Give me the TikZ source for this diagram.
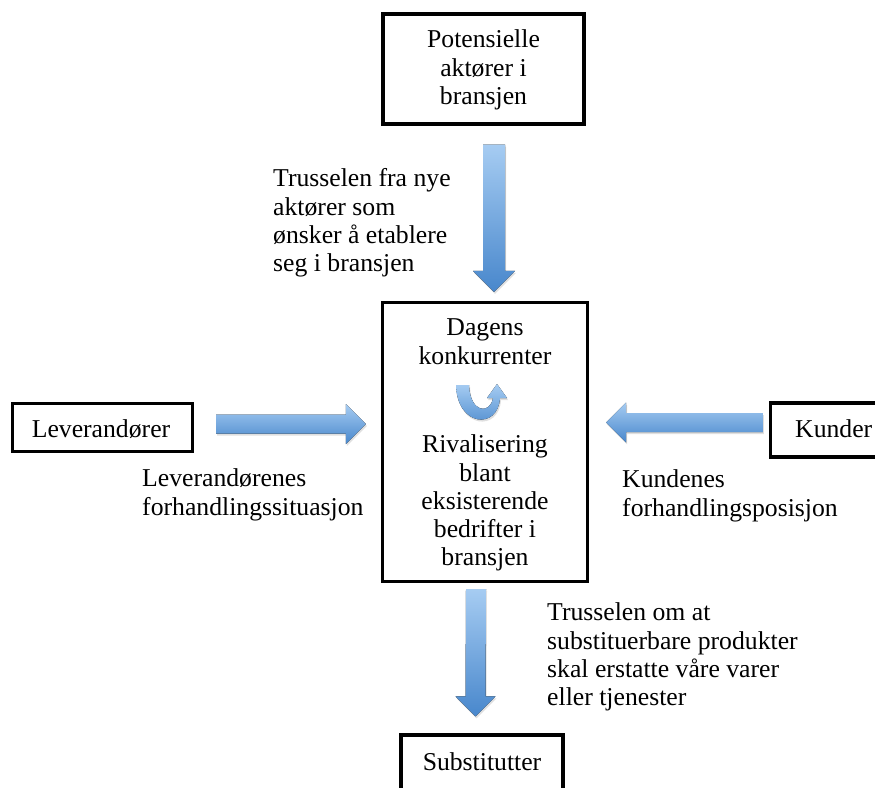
\documentclass[tikz,border=0pt]{standalone}
\usepackage{fontspec}
\setmainfont{Liberation Serif}
\usetikzlibrary{calc,shadows}
\definecolor{arrowlight}{HTML}{A6CCF2}
\definecolor{arrowdark}{HTML}{4887CC}
\tikzset{
  box/.style={draw=black, line width=3.2pt, fill=white, inner sep=0pt,
    drop shadow={opacity=0.25, shadow xshift=1pt, shadow yshift=-1.5pt}},
  txt/.style={inner sep=0pt, font=\fontsize{25.7}{28.3}\selectfont},
  blockarrow/.style={top color=arrowlight, bottom color=arrowdark, draw=none,
    drop shadow={opacity=0.25, shadow xshift=1pt, shadow yshift=-2pt}},
}
\begin{document}
\begin{tikzpicture}[x=1pt,y=-1pt]
\useasboundingbox (0,0) rectangle (875,787);

% boxes
\node[box, minimum width=201, minimum height=110] (top) at (483.5,69) {};
\node[box, minimum width=205, minimum height=279] (mid) at (485,442) {};
\node[box, minimum width=180, minimum height=48] (lev) at (102.5,427.5) {};
\node[box, minimum width=115, minimum height=54] (kun) at (828,430) {};
\node[box, minimum width=162, minimum height=64] (sub) at (482,767) {};

% box texts
\node[txt, align=center, anchor=north] (toptxt) at (483.5,29.7) {Potensielle\\aktører i\\bransjen};
\node[txt, align=center, anchor=north] (dagens) at (485,318.7) {Dagens\\konkurrenter};
\node[txt, align=center, anchor=north] (rival) at (485,434.7) {Rivalisering\\blant\\eksisterende\\bedrifter i\\bransjen};
\node[txt, anchor=north] (levtxt) at (101,419.7) {Leverandører};
\node[txt, anchor=north west] (kuntxt) at (795,419.7) {Kunder};
\node[txt, anchor=north] (subtxt) at (482,752.7) {Substitutter};

% labels
\node[txt, align=left, anchor=north west] (lblnew) at (273,168.7) {Trusselen fra nye\\aktører som\\ønsker å etablere\\seg i bransjen};
\node[txt, align=left, anchor=north west] (lbllev) at (142,468.7) {Leverandørenes\\forhandlingssituasjon};
\node[txt, align=left, anchor=north west] (lblkun) at (622,469.7) {Kundenes\\forhandlingsposisjon};
\node[txt, align=left, anchor=north west] (lblsub) at (547,602.7) {Trusselen om at\\substituerbare produkter\\skal erstatte våre varer\\eller tjenester};

% arrow end points
\coordinate (a1s) at ($(top.south)+(10.5,19)$);
\coordinate (a1e) at ($(mid.north)+(9,-9)$);
\coordinate (a2s) at ($(lev.east)+(22,-3.5)$);
\coordinate (a2e) at ($(a2s -| mid.west)+(-15,0)$);
\coordinate (a3s) at ($(kun.west)+(-6,-7.5)$);
\coordinate (a3e) at ($(a3s -| mid.east)+(17,0)$);
\coordinate (a4s) at ($(mid.south)+(-9,6)$);
\coordinate (a4e) at ($(sub.north)+(-6.5,-17)$);

% down arrow from potential entrants
\fill[blockarrow] ($(a1s)+(-11,0)$) -- ($(a1s)+(11,0)$) -- ($(a1e)+(11,-21)$) -- ($(a1e)+(21,-21)$)
  -- (a1e) -- ($(a1e)+(-21,-21)$) -- ($(a1e)+(-11,-21)$) -- cycle;
% right arrow from suppliers
\fill[blockarrow] ($(a2s)+(0,-9.5)$) -- ($(a2e)+(-20,-9.5)$) -- ($(a2e)+(-20,-20)$) -- (a2e)
  -- ($(a2e)+(-20,20)$) -- ($(a2e)+(-20,9.5)$) -- ($(a2s)+(0,9.5)$) -- cycle;
% left arrow from customers
\fill[blockarrow] ($(a3s)+(0,-9.5)$) -- ($(a3e)+(20,-9.5)$) -- ($(a3e)+(20,-20)$) -- (a3e)
  -- ($(a3e)+(20,20)$) -- ($(a3e)+(20,9.5)$) -- ($(a3s)+(0,9.5)$) -- cycle;
% down arrow to substitutes
\fill[blockarrow] ($(a4s)+(-10,0)$) -- ($(a4s)+(10,0)$) -- ($(a4e)+(10,-20)$) -- ($(a4e)+(20,-20)$)
  -- (a4e) -- ($(a4e)+(-20,-20)$) -- ($(a4e)+(-10,-20)$) -- cycle;

% U-turn arrow inside the centre box
\coordinate (u) at ($(mid.center)+(0,-57)$);
\fill[blockarrow] ($(u)+(-29,0)$) .. controls ($(u)+(-28,42)$) and ($(u)+(13,45)$) .. ($(u)+(15,13)$)
  -- ($(u)+(22,13)$) -- ($(u)+(12,-1)$) -- ($(u)+(2,13)$) -- ($(u)+(8,13)$)
  .. controls ($(u)+(5,30)$) and ($(u)+(-15,28)$) .. ($(u)+(-16,0)$) -- cycle;
\end{tikzpicture}
\end{document}
